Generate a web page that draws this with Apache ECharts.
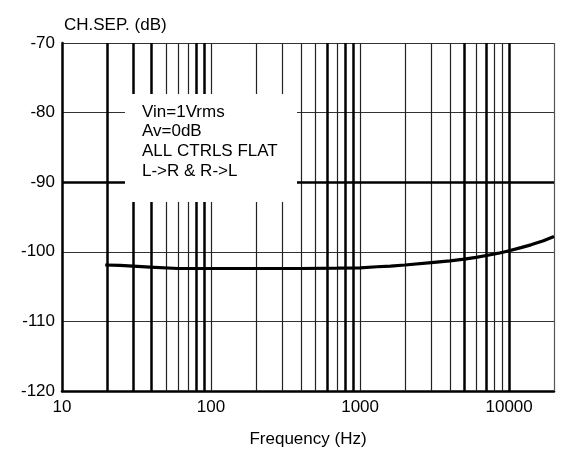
<!DOCTYPE html>
<html><head><meta charset="utf-8">
<script src="https://cdn.jsdelivr.net/npm/echarts@6/dist/echarts.min.js"></script>
<style>html,body{margin:0;padding:0;background:#fff}#c{width:582px;height:456px}</style>
</head><body><div id="c"></div>
<script>
var freqs = [19.5, 24.5, 25, 39, 40, 60, 100, 200, 400, 700, 1000, 1300, 1600, 2000, 3000, 4000, 5000, 6000, 7200, 8500, 10000, 12000, 14000, 17000, 20000];
var chSep = [-101.9, -101.95, -102.15, -102.2, -102.35, -102.4, -102.4, -102.4, -102.4, -102.35, -102.3, -102.15, -102.05, -101.9, -101.55, -101.3, -101.05, -100.8, -100.5, -100.2, -99.85, -99.4, -99.0, -98.4, -97.8];
var gridThin = [50, 60, 70, 100, 200, 300, 400, 500, 700, 1000, 2000, 3000, 4000, 6000, 8000, 9000];
var gridThick = [20, 30, 40, 80, 90, 600, 800, 900, 5000, 7000, 10000];
var yTicks = [-120, -110, -100, -90, -80, -70];
var notes = ['Vin=1Vrms', 'Av=0dB', 'ALL CTRLS FLAT', 'L->R & R->L'];

var FONT = 'Liberation Sans';
var chart = echarts.init(document.getElementById('c'));
var lines = [];
gridThin.forEach(function (f) { lines.push({ xAxis: f, lineStyle: { type: 'solid', width: 1.2, color: '#222' } }); });
gridThick.forEach(function (f) { lines.push({ xAxis: f, lineStyle: { type: 'solid', width: 2.5, color: '#000' } }); });
lines.push({ xAxis: 20000, lineStyle: { type: 'solid', width: 1.2, color: '#555' } });
lines.push({ yAxis: -90, lineStyle: { type: 'solid', width: 2.5, color: '#000' } });

chart.setOption({
  animation: false,
  backgroundColor: '#fff',
  grid: { left: 62, right: 28, top: 43, bottom: 65 },
  title: {
    text: 'CH.SEP. (dB)', left: 59, top: 12,
    textStyle: { fontFamily: FONT, fontSize: 17, fontWeight: 'normal', color: '#000' }
  },
  xAxis: {
    type: 'log', logBase: 10, min: 10, max: 20000,
    name: 'Frequency (Hz)', nameLocation: 'middle', nameGap: 40,
    nameTextStyle: { fontFamily: FONT, fontSize: 17, color: '#000' },
    axisLine: { show: true, lineStyle: { color: '#000', width: 2.5 } },
    axisTick: { show: false },
    splitLine: { show: false },
    axisLabel: {
      fontFamily: FONT, fontSize: 17, color: '#000', margin: 8,
      showMaxLabel: false,
      formatter: function (v) { return [10, 100, 1000, 10000].indexOf(Math.round(v)) >= 0 ? String(Math.round(v)) : ''; }
    }
  },
  yAxis: {
    type: 'value', min: yTicks[0], max: yTicks[yTicks.length - 1], interval: 10,
    axisLine: { show: true, lineStyle: { color: '#000', width: 2.5 } },
    axisTick: { show: false },
    splitLine: { show: true, lineStyle: { color: '#333', width: 1.2 } },
    axisLabel: { fontFamily: FONT, fontSize: 17, color: '#000', margin: 7 }
  },
  graphic: [{
    type: 'rect', left: 125, top: 94, z: 100,
    shape: { width: 172, height: 108 },
    style: { fill: '#fff' }
  }, {
    type: 'text', left: 142, top: 102, z: 101,
    style: {
      text: notes.join('\n'), font: '17px "Liberation Sans"', fill: '#000', lineHeight: 19.7
    }
  }],
  series: [{
    type: 'line', data: freqs.map(function (f, i) { return [f, chSep[i]]; }),
    showSymbol: false, smooth: false, z: 10,
    lineStyle: { color: '#000', width: 3.2 },
    markLine: { silent: true, symbol: 'none', label: { show: false }, z: 1, data: lines }
  }]
});
</script></body></html>
